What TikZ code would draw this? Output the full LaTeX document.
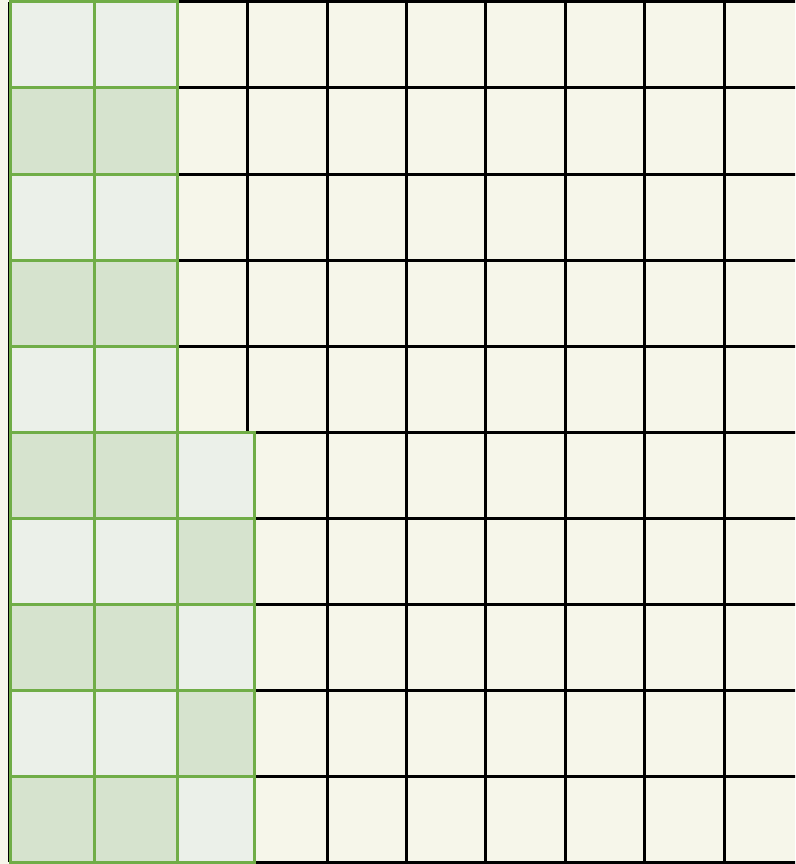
\documentclass[tikz,border=0pt]{standalone}
\definecolor{paper}{HTML}{F6F6EA}
\definecolor{leafline}{HTML}{70AD47}
\definecolor{leaflight}{HTML}{EBF0E9}
\definecolor{leafdark}{HTML}{D6E3CE}
\tikzset{
	gridline/.style={black, line width=3pt},
	lightcell/.style={fill=leaflight, draw=leafline, line width=3pt},
	darkcell/.style={fill=leafdark, draw=leafline, line width=3pt}
}
\begin{document}
\begin{tikzpicture}[x=1pt, y=-1pt]
			\fill[paper] (0,0) rectangle (795,864);
			\clip (0,0) rectangle (795,864);
			% black grid
			\foreach \i in {0,...,10}
				\draw[gridline] ({9.5+79.4*\i},2) -- ({9.5+79.4*\i},862);
			\foreach \j in {0,...,10}
				\draw[gridline] (9.5,{2+86*\j}) -- (803.5,{2+86*\j});
			% green cells
			\foreach \j/\s in {0/lightcell,1/darkcell,2/lightcell,3/darkcell,4/lightcell,5/darkcell,6/lightcell,7/darkcell,8/lightcell,9/darkcell} {
				\draw[\s] (10.5,{2+86*\j}) rectangle (94.3,{88+86*\j});
				\draw[\s] (94.3,{2+86*\j}) rectangle (177.3,{88+86*\j});
			}
			\foreach \j/\s in {5/lightcell,6/darkcell,7/lightcell,8/darkcell,9/lightcell}
				\draw[\s] (177.3,{2+86*\j}) rectangle (254,{88+86*\j});
		\end{tikzpicture}
\end{document}
